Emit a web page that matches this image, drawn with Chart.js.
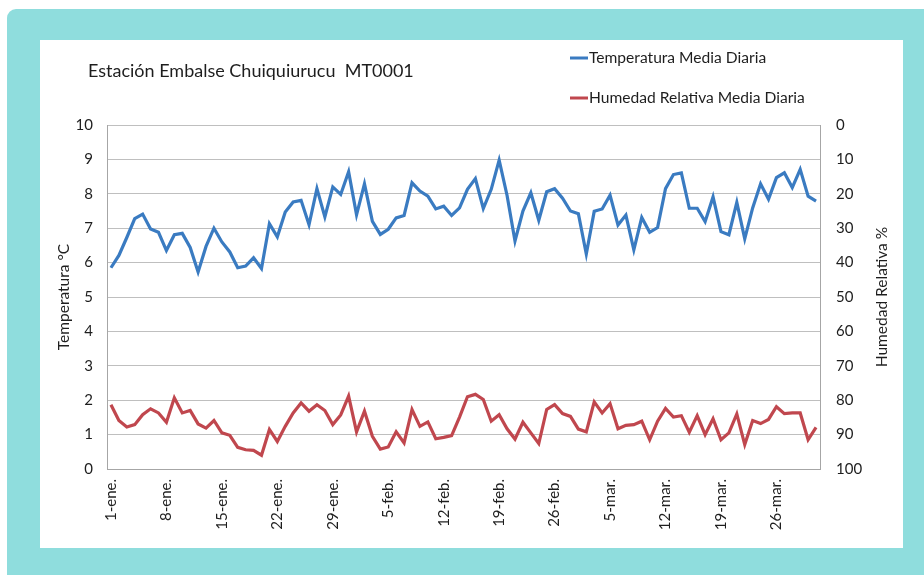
<!DOCTYPE html>
<html>
<head>
<meta charset="utf-8">
<script src="https://cdn.jsdelivr.net/npm/chart.js@4"></script>
<style>
  html, body { margin: 0; padding: 0; background: #fff; }
  #frame { position: absolute; left: 7px; top: 9px; width: 940px; height: 600px; background: #8FDDDD; border-radius: 9px; }
  #panel { position: absolute; left: 40px; top: 40px; width: 863px; height: 508px; background: #fff; }
</style>
</head>
<body>
<div id="frame"></div>
<div id="panel"><canvas id="chart" width="863" height="508"></canvas></div>
<script>
const monthNames = ['ene.', 'feb.', 'mar.'];
const monthDays = [31, 28, 31];

// Temperatura media diaria (°C), 1-ene a 31-mar
const temperatura = [
  5.85, 6.21, 6.73, 7.28, 7.41, 6.98, 6.88, 6.35, 6.81, 6.85,
  6.44, 5.73, 6.47, 7.00, 6.60, 6.31, 5.85, 5.90, 6.14, 5.83,
  7.13, 6.75, 7.47, 7.76, 7.81, 7.10, 8.15, 7.33, 8.20, 7.98,
  8.64, 7.39, 8.29, 7.20, 6.82, 6.97, 7.30, 7.37, 8.32, 8.08,
  7.93, 7.56, 7.64, 7.37, 7.59, 8.13, 8.44, 7.57, 8.13, 8.98,
  7.95, 6.63, 7.50, 8.03, 7.23, 8.06, 8.15, 7.87, 7.50, 7.42,
  6.25, 7.49, 7.56, 7.96, 7.09, 7.38, 6.37, 7.31, 6.88, 7.02,
  8.15, 8.56, 8.61, 7.58, 7.58, 7.19, 7.91, 6.90, 6.81, 7.75,
  6.69, 7.59, 8.29, 7.84, 8.47, 8.61, 8.18, 8.71, 7.93, 7.79
];

// Humedad relativa media diaria (%), eje secundario invertido
const humedad = [
  81.3, 85.9, 87.8, 87.1, 84.2, 82.5, 83.7, 86.4, 79.3, 83.7,
  83.0, 86.9, 88.1, 85.9, 89.5, 90.2, 93.7, 94.4, 94.6, 96.0,
  88.5, 92.0, 87.6, 83.7, 80.8, 83.2, 81.3, 83.0, 87.1, 84.3,
  78.8, 89.2, 83.2, 90.5, 94.2, 93.6, 89.2, 92.4, 82.7, 87.6,
  86.3, 91.2, 90.8, 90.3, 84.9, 79.0, 78.3, 79.8, 86.1, 84.2,
  88.3, 91.3, 86.4, 89.5, 92.6, 82.7, 81.3, 83.9, 84.7, 88.4,
  89.2, 80.5, 83.7, 81.0, 88.3, 87.3, 87.1, 86.1, 91.5, 86.1,
  82.4, 84.9, 84.5, 89.3, 84.5, 90.0, 85.4, 91.5, 89.5, 84.0,
  92.9, 85.9, 86.8, 85.6, 81.9, 83.9, 83.7, 83.7, 91.5, 87.9
];

const dias = [];
monthDays.forEach((n, m) => {
  for (let d = 1; d <= n; d++) dias.push(d + '-' + monthNames[m]);
});

const FONT = 'Lato, "Open Sans", sans-serif';
const TXT = '#1e1e1e';

const textPlugin = {
  id: 'textos',
  afterDraw(chart) {
    const ctx = chart.ctx;
    const area = chart.chartArea;
    ctx.save();
    ctx.fillStyle = TXT;
    ctx.textBaseline = 'middle';
    ctx.font = '18px ' + FONT;
    ctx.textAlign = 'left';
    ctx.fillText('Estación Embalse Chuiquiurucu  MT0001', 48, 31);

    // leyenda
    const items = [
      { label: 'Temperatura Media Diaria', color: '#3A7BC1', y: 18 },
      { label: 'Humedad Relativa Media Diaria', color: '#C0474E', y: 58 }
    ];
    ctx.font = '15.6px ' + FONT;
    items.forEach(it => {
      ctx.strokeStyle = it.color;
      ctx.lineWidth = 3;
      ctx.beginPath();
      ctx.moveTo(530, it.y);
      ctx.lineTo(548, it.y);
      ctx.stroke();
      ctx.fillText(it.label, 549, it.y);
    });

    // títulos de ejes
    const midY = (area.top + area.bottom) / 2;
    ctx.font = '15.5px ' + FONT;
    ctx.textAlign = 'center';
    [[24, 'Temperatura °C'], [842, 'Humedad Relativa %']].forEach(([x, t]) => {
      ctx.save();
      ctx.translate(x, midY);
      ctx.rotate(-Math.PI / 2);
      ctx.fillText(t, 0, 0);
      ctx.restore();
    });
    ctx.restore();
  }
};

new Chart(document.getElementById('chart'), {
  type: 'line',
  data: {
    labels: dias,
    datasets: [
      {
        label: 'Temperatura Media Diaria',
        data: temperatura,
        yAxisID: 'y',
        borderColor: '#3A7BC1',
        borderWidth: 3.2,
        pointRadius: 0,
        tension: 0
      },
      {
        label: 'Humedad Relativa Media Diaria',
        data: humedad,
        yAxisID: 'y1',
        borderColor: '#C0474E',
        borderWidth: 3.2,
        pointRadius: 0,
        tension: 0
      }
    ]
  },
  options: {
    responsive: false,
    animation: false,
    layout: { padding: { top: 85, left: 0, right: 0, bottom: 0 } },
    plugins: { legend: { display: false }, title: { display: false }, tooltip: { enabled: false } },
    scales: {
      x: {
        type: 'category',
        offset: true,
        grid: { display: false, drawTicks: false },
        border: { color: '#A6A6A6' },
        ticks: {
          autoSkip: false,
          minRotation: 90,
          maxRotation: 90,
          padding: 10,
          color: TXT,
          font: { family: FONT, size: 15 },
          callback: function(val, i) { return i % 7 === 0 ? this.getLabelForValue(val) : null; }
        },
        afterFit: s => { s.height = 79; }
      },
      y: {
        position: 'left',
        min: 0,
        max: 10,
        grid: { color: '#BFBFBF', drawTicks: false },
        border: { color: '#A6A6A6' },
        ticks: { stepSize: 1, padding: 14, color: TXT, font: { family: FONT, size: 15 } },
        afterFit: s => { s.width = 67; }
      },
      y1: {
        position: 'right',
        reverse: true,
        min: 0,
        max: 100,
        grid: { drawOnChartArea: false, drawTicks: false },
        border: { color: '#A6A6A6' },
        ticks: { stepSize: 10, padding: 16, color: TXT, font: { family: FONT, size: 15 } },
        afterFit: s => { s.width = 83; }
      }
    }
  },
  plugins: [textPlugin]
});
</script>
</body>
</html>
